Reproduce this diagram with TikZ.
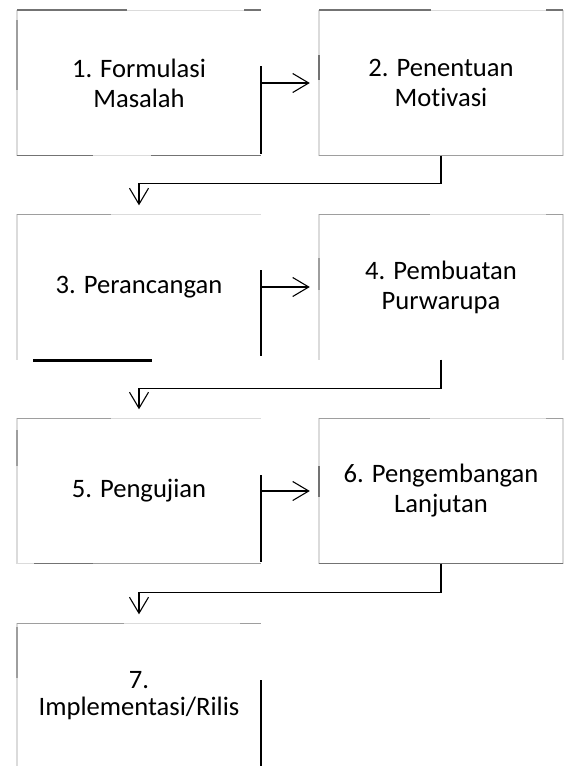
\documentclass[tikz,border=0pt]{standalone}
\usepackage{fontspec}
\setmainfont{Carlito}[Ligatures=NoCommon]
\usetikzlibrary{arrows.meta}
\tikzset{%
  stage/.style={minimum width=244pt, minimum height=145pt, inner sep=0pt,
                align=center, font=\fontsize{26.6}{30}\selectfont},
  rim/.style={line width=1.5pt, black!14},
  rimmid/.style={line width=1.5pt, black!38},
  rimdark/.style={line width=1.5pt, black!55},
  bar/.style={line width=2.6pt},
  flow/.style={line width=1.1pt,
               -{Straight Barb[length=16pt,width=19pt,line width=1.1pt]}},
}

\begin{document}
\begin{tikzpicture}[x=1pt, y=-1pt]

    \useasboundingbox (0,0) rectangle (563,766);

    % stages
    \node[stage] (b1) at (139,83) {1. Formulasi\\Masalah};
    \node[stage] (b2) at (441,83) {2. Penentuan\\Motivasi};
    \node[stage] (b3) at (139,287) {3. Perancangan};
    \node[stage] (b4) at (441,287) {4. Pembuatan\\Purwarupa};
    \node[stage] (b5) at (139,491) {5. Pengujian};
    \node[stage] (b6) at (441,491) {6. Pengembangan\\Lanjutan};
    \node[stage] (b7) at (139,696) {7.\\[-3pt]Implementasi/Rilis};

    % faint outlines of the boxes
    \draw[rim] (b1.south west) -- (b1.north west) -- (b1.north east);
    \draw[rim] (b1.south west) -- (b1.south east);
    \draw[rim] (b2.south west) rectangle (b2.north east);
    \draw[rim] (b3.south west) -- (b3.north west) -- (b3.north east);
    \draw[rim] (b4.south west) -- (b4.north west) -- (b4.north east) -- (b4.south east);
    \draw[rim] (b5.south west) -- (b5.north west) -- (b5.north east);
    \draw[rim] (b5.south west) -- (b5.south east);
    \draw[rim] (b6.south west) rectangle (b6.north east);
    \draw[rim] (b7.south west) -- (b7.north west) -- (b7.north east);

    % darker pieces of the outlines
    \draw[rimdark] (17,10) -- (127,10);  \draw[rimdark] (244,10) -- (261,10);
    \draw[rimmid] (17,20) -- (17,90);
    \draw[rimdark] (17,155.5) -- (93,155.5); \draw[rimdark] (151,155.5) -- (261,155.5);
    \draw[rimdark] (319,10) -- (431,10);  \draw[rimdark] (546,10) -- (563,10);
    \draw[rimdark] (319,55) -- (319,80);
    \draw[rimmid] (319,155.5) -- (563,155.5);
    \draw[rimmid] (17,214.5) -- (111,214.5);
    \draw[rimmid] (319,214.5) -- (430,214.5); \draw[rimmid] (546,214.5) -- (563,214.5);
    \draw[rimmid] (319,258) -- (319,290);
    \draw[rimmid] (17,418.5) -- (111,418.5);
    \draw[rimmid] (17,430) -- (17,466);
    \draw[rimdark] (34,563.5) -- (93,563.5); \draw[rimmid] (93,563.5) -- (261,563.5);
    \draw[rimmid] (319,418.5) -- (430,418.5); \draw[rimmid] (546,418.5) -- (563,418.5);
    \draw[rimdark] (319,466) -- (319,497);
    \draw[rimdark] (319,563.5) -- (563,563.5);
    \draw[rimmid] (17,623.5) -- (124,623.5); \draw[rimmid] (240,623.5) -- (261,623.5);
    \draw[rimmid] (17,627) -- (17,678);

    % black bars
    \draw[bar] (261,66) -- (261,154);
    \draw[bar] (261,270) -- (261,356);
    \draw[bar] (261,475) -- (261,562);
    \draw[bar] (261,680) -- (261,766);
    \draw[line width=3pt] (33,360) -- (152,360);

    % flow
    \draw[flow, shorten >=9pt] (b1.east) -- (b2.west);
    \draw[flow, shorten >=9pt] (b3.east) -- (b4.west);
    \draw[flow, shorten >=9pt] (b5.east) -- (b6.west);
    \draw[flow, shorten >=9pt] (b2.south) -- ++(0,28) -| (b3.north);
    \draw[flow, shorten >=9pt] (b4.south) -- ++(0,29) -| (b5.north);
    \draw[flow, shorten >=9pt] (b6.south) -- ++(0,29) -| (b7.north);

\end{tikzpicture}
\end{document}
